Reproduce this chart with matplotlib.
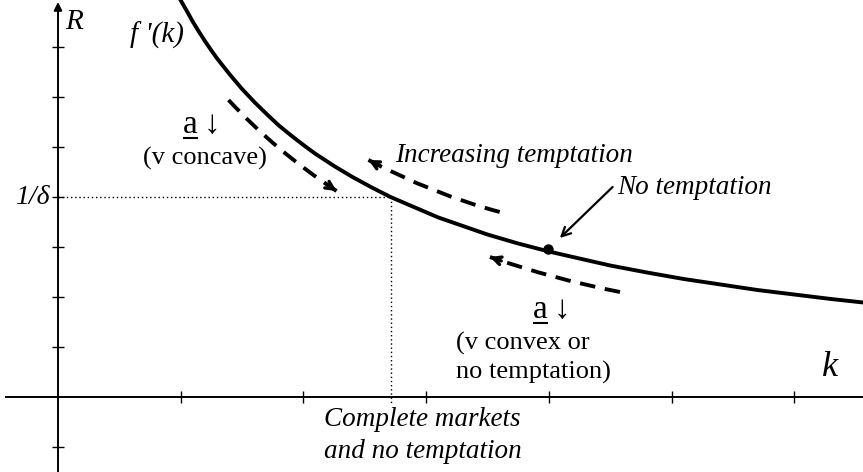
import numpy as np
import matplotlib
matplotlib.use('Agg')
import matplotlib.pyplot as plt
from matplotlib.path import Path
from matplotlib.patches import PathPatch
from matplotlib.lines import Line2D

plt.rcParams['font.family'] = ['Liberation Serif', 'DejaVu Serif']

# f'(k) curve (k, R)
curve_k = [0.98, 1.05, 1.1, 1.15, 1.2, 1.25, 1.3, 1.4, 1.5, 1.6, 1.7, 1.8, 1.9, 2.0, 2.1,
           2.25, 2.4, 2.55, 2.71, 2.9, 3.1, 3.3, 3.5, 3.75, 4.0, 4.25, 4.5, 4.8, 5.1, 5.4,
           5.7, 6.0, 6.3, 6.6]
curve_r = [8.02, 7.72, 7.50, 7.30, 7.11, 6.93, 6.76, 6.45, 6.16, 5.90, 5.66, 5.43, 5.23, 5.04, 4.86,
           4.62, 4.40, 4.20, 4.00, 3.80, 3.59, 3.42, 3.25, 3.07, 2.91, 2.77, 2.63, 2.49, 2.36, 2.25,
           2.14, 2.05, 1.96, 1.88]

# reference point (complete markets, no temptation)
k_star, r_star = 2.71, 4.0
# the no-temptation point
k_nt, r_nt = 3.99, 2.96

x_ticks = [1, 2, 3, 4, 5, 6]
y_ticks = [-1, 1, 2, 3, 4, 5, 6, 7]

# dashed arrows: start, middle, tip
dash_arrows = [
    [(1.39, 5.94), (1.80, 4.98), (2.27, 4.12)],
    [(3.60, 3.70), (3.06, 4.14), (2.53, 4.74)],
    [(4.58, 2.10), (4.05, 2.40), (3.52, 2.80)],
]

fig = plt.figure(figsize=(8.63, 4.72), dpi=100)
ax = fig.add_axes([0, 0, 1, 1])
ax.set_xlim(-58 / 122.7, 805 / 122.7)
ax.set_ylim(-1.5, 7.94)
ax.axis('off')

# axes
ax.plot([-0.43, 6.6], [0, 0], color='black', lw=1.4, solid_capstyle='butt')
ax.annotate('', xy=(0, 7.9), xytext=(0, -1.5),
            arrowprops=dict(arrowstyle='-|>', lw=1.4, color='black', mutation_scale=12,
                            shrinkA=0, shrinkB=0))
ax.plot(x_ticks, [0] * len(x_ticks), ls='none', marker='|', ms=9, mew=1.0, color='black')
ax.plot([0] * len(y_ticks), y_ticks, ls='none', marker='_', ms=9, mew=1.0, color='black')

# dotted guide lines
ax.plot([0, k_star], [r_star, r_star], color='black', lw=1.0, ls=(0, (1, 2)))
ax.plot([k_star, k_star], [r_star, -0.12], color='black', lw=1.0, ls=(0, (1, 2)))

# curve
ax.plot(curve_k, curve_r, color='black', lw=2.8, solid_joinstyle='round')
ax.plot([k_nt], [r_nt], 'o', color='black', ms=6.5)

# dashed curved arrows
for p0, m, p2 in dash_arrows:
    p0, m, p2 = np.array(p0), np.array(m), np.array(p2)
    c = 2 * m - 0.5 * (p0 + p2)
    path = Path([p0, c, p2], [Path.MOVETO, Path.CURVE3, Path.CURVE3])
    ax.add_patch(PathPatch(path, fill=False, lw=2.8, ls=(0, (4, 2.5)), color='black'))
    d = p2 - c
    d = d / np.hypot(d[0] * 122.7, d[1] * 50)
    back = p2 - d * 12
    ax.annotate('', xy=tuple(p2), xytext=tuple(back),
                arrowprops=dict(arrowstyle='->', lw=2.4, color='black', mutation_scale=14,
                                shrinkA=0, shrinkB=0))

# solid arrow to the no-temptation point
ax.annotate('', xy=(4.09, 3.18), xytext=(4.52, 4.20),
            arrowprops=dict(arrowstyle='->', lw=1.6, color='black', mutation_scale=16,
                            shrinkA=0, shrinkB=0))

# labels
ax.text(0.06, 7.5, 'R', fontsize=21, style='italic', ha='left', va='center')
ax.text(1.03, 7.24, "f '(k)", fontsize=21, style='italic', ha='right', va='center')
ax.text(-0.07, 4.0, '1/δ', fontsize=20, style='italic', ha='right', va='center')
ax.text(6.29, 0.58, 'k', fontsize=26, style='italic', ha='center', va='center')
ax.text(2.75, 4.84, 'Increasing temptation', fontsize=19.5, style='italic', ha='left', va='center')
ax.text(4.56, 4.2, 'No temptation', fontsize=19.5, style='italic', ha='left', va='center')
ax.text(1.2, 4.78, '(v concave)', fontsize=19, ha='center', va='center')
ax.text(3.24, 1.08, '(v convex or', fontsize=19, ha='left', va='center')
ax.text(3.24, 0.5, 'no temptation)', fontsize=19, ha='left', va='center')
ax.text(2.97, -0.46, 'Complete markets', fontsize=19.5, style='italic', ha='center', va='center')
ax.text(2.97, -1.1, 'and no temptation', fontsize=19.5, style='italic', ha='center', va='center')

# underlined "a" with down arrow
fig.canvas.draw()
renderer = fig.canvas.get_renderer()
for ax_x, ax_y in [(1.02, 5.44), (3.87, 1.74)]:
    t = ax.text(ax_x, ax_y, 'a', fontsize=24, ha='left', va='center')
    ax.text(ax_x + 0.17, ax_y, '↓', fontsize=24, ha='left', va='center')
    bb = t.get_window_extent(renderer)
    fig.add_artist(Line2D([bb.x0 + 1, bb.x1 - 1], [bb.y0 + 2, bb.y0 + 2],
                          transform=None, color='black', lw=1.5))

fig.savefig('out.png', dpi=100)
